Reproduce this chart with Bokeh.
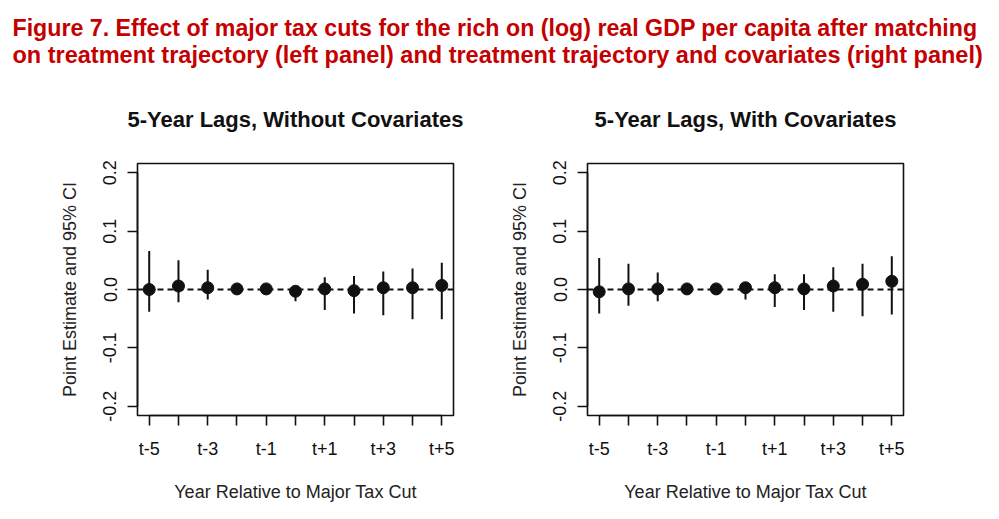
from bokeh.plotting import figure
from bokeh.models import Range1d, FixedTicker, PrintfTickFormatter, Span, Label
from bokeh.layouts import column, row
from bokeh.embed import file_html
from bokeh.resources import INLINE

# ---- data ----
periods = [-5, -4, -3, -2, -1, 0, 1, 2, 3, 4, 5]
period_labels = {-5: "t-5", -3: "t-3", -1: "t-1", 1: "t+1", 3: "t+3", 5: "t+5"}
y_ticks = [-0.2, -0.1, 0.0, 0.1, 0.2]

est_nocov = [0.000, 0.006, 0.003, 0.001, 0.001, -0.003, 0.001, -0.002, 0.003, 0.003, 0.007]
lo_nocov = [-0.038, -0.022, -0.017, -0.006, -0.004, -0.020, -0.035, -0.041, -0.044, -0.051, -0.051]
hi_nocov = [0.066, 0.050, 0.034, 0.009, 0.005, 0.005, 0.021, 0.023, 0.031, 0.036, 0.046]

est_cov = [-0.004, 0.001, 0.001, 0.001, 0.001, 0.003, 0.003, 0.001, 0.006, 0.009, 0.014]
lo_cov = [-0.041, -0.028, -0.020, -0.007, -0.004, -0.017, -0.030, -0.035, -0.038, -0.046, -0.043]
hi_cov = [0.054, 0.044, 0.029, 0.007, 0.005, 0.011, 0.026, 0.026, 0.038, 0.044, 0.057]

main_title_1 = "Figure 7. Effect of major tax cuts for the rich on (log) real GDP per capita after matching"
main_title_2 = "on treatment trajectory (left panel) and treatment trajectory and covariates (right panel)"
panel_titles = ["5-Year Lags, Without Covariates", "5-Year Lags, With Covariates"]
x_title = "Year Relative to Major Tax Cut"
y_title = "Point Estimate and 95% CI"

FONT = "Liberation Sans"
INK = "#111111"

HEADER_H = 72
PANEL_H = 444
TOP = 91
FRAME_H = 252

# ---- header ----
header = figure(width=999, height=HEADER_H, x_range=Range1d(0, 999), y_range=Range1d(HEADER_H, 0),
                output_backend="svg", toolbar_location=None,
                x_axis_type=None, y_axis_type=None,
                min_border=0, min_border_left=0, min_border_right=0,
                min_border_top=0, min_border_bottom=0)
header.outline_line_color = None
header.xgrid.visible = False
header.ygrid.visible = False
for txt, yb, fs in [(main_title_1, 27.0, "23.2px"), (main_title_2, 54.0, "23.5px")]:
    header.add_layout(Label(x=12, y=yb, text=txt, text_font=FONT, text_font_size=fs,
                            text_font_style="bold", text_color="#C40000",
                            text_baseline="alphabetic", text_align="left"))


def panel(title, est, lo, hi, width, left, right):
    p = figure(width=width, height=PANEL_H,
               x_range=Range1d(-5.4, 5.4), y_range=Range1d(-0.216, 0.216),
               output_backend="svg", toolbar_location=None,
               min_border_left=left, min_border_right=right,
               min_border_top=TOP, min_border_bottom=PANEL_H - TOP - FRAME_H)
    p.title.text = title
    p.title.align = "center"
    p.title.vertical_align = "bottom"
    p.title.text_font = FONT
    p.title.text_font_size = "22px"
    p.title.text_font_style = "bold"
    p.title.text_color = INK
    p.title.standoff = 64
    p.xgrid.visible = False
    p.ygrid.visible = False
    p.outline_line_color = INK
    p.outline_line_width = 1.6
    p.background_fill_color = "white"
    p.border_fill_color = "white"

    p.add_layout(Span(location=0, dimension="width", line_color=INK,
                      line_width=2, line_dash="6 4"))
    p.segment(x0=periods, y0=lo, x1=periods, y1=hi, line_color=INK, line_width=2)
    p.scatter(periods, est, size=12, fill_color=INK, line_color=INK)

    xa = p.xaxis[0]
    xa.ticker = FixedTicker(ticks=list(period_labels.keys()),
                            minor_ticks=[t for t in periods if t not in period_labels])
    xa.major_label_overrides = dict(period_labels)
    xa.bounds = (-5, 5)
    ya = p.yaxis[0]
    ya.ticker = FixedTicker(ticks=y_ticks, minor_ticks=[])
    ya.formatter = PrintfTickFormatter(format="%.1f")
    ya.bounds = (-0.2, 0.2)
    ya.major_label_orientation = "vertical"

    xa.axis_label = x_title
    ya.axis_label = y_title
    for ax in (xa, ya):
        ax.axis_line_color = INK
        ax.axis_line_width = 1.6
        ax.major_tick_line_color = INK
        ax.major_tick_line_width = 1.6
        ax.minor_tick_line_color = INK
        ax.minor_tick_line_width = 1.6
        ax.major_tick_in = 0
        ax.major_tick_out = 10
        ax.minor_tick_in = 0
        ax.minor_tick_out = 10
        ax.major_label_text_font = FONT
        ax.major_label_text_font_size = "18px"
        ax.major_label_text_color = INK
        ax.axis_label_text_font = FONT
        ax.axis_label_text_font_size = "18px"
        ax.axis_label_text_font_style = "normal"
        ax.axis_label_text_color = "#222222"
    xa.major_label_standoff = 13
    xa.axis_label_standoff = 20
    ya.major_label_standoff = 11
    ya.axis_label_standoff = 21
    return p


p1 = panel(panel_titles[0], est_nocov, lo_nocov, hi_nocov, 470, 137, 17)
p2 = panel(panel_titles[1], est_cov, lo_cov, hi_cov, 453, 117, 20)

layout = column(header, row(p1, p2))
open("out.html", "w").write(file_html(layout, INLINE))
